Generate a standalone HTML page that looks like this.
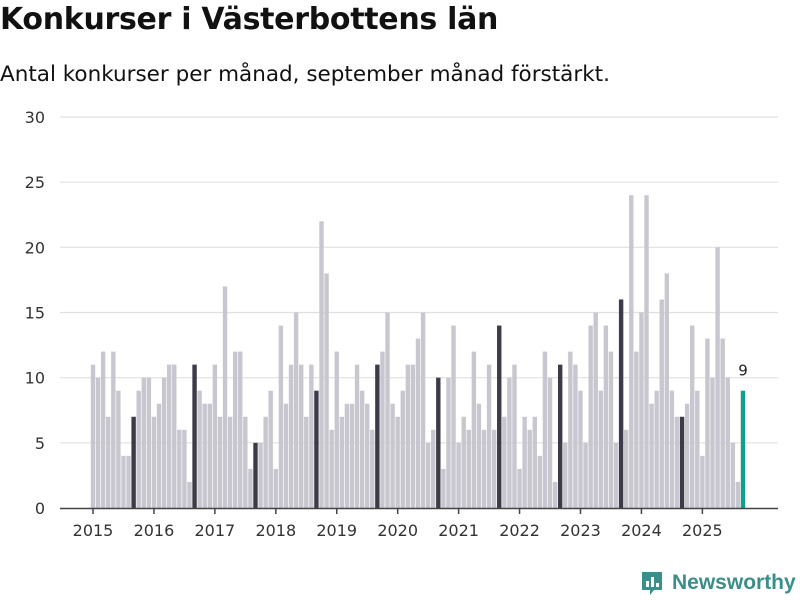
<!DOCTYPE html>
<html><head><meta charset="utf-8"><style>
body{margin:0;width:800px;height:600px;background:#fff;font-family:"Liberation Sans","DejaVu Sans",sans-serif;overflow:hidden;position:relative}
h1{position:absolute;left:0;top:2px;margin:0;font-size:30px;font-weight:bold;color:#111;font-family:"DejaVu Sans","Liberation Sans",sans-serif;letter-spacing:-0.3px}
.sub{position:absolute;left:0;top:62px;font-size:21.5px;color:#111;font-family:"DejaVu Sans","Liberation Sans",sans-serif}
.logo{position:absolute;left:640px;top:570px;display:flex;align-items:center;gap:8px;font-size:21px;font-weight:bold;color:#3a8f8a;font-family:"Liberation Sans",sans-serif}
</style></head><body>
<h1>Konkurser i Västerbottens län</h1>
<div class="sub">Antal konkurser per månad, september månad förstärkt.</div>
<svg id="chart" width="800" height="600" style="position:absolute;left:0;top:0"></svg>
<div class="logo">
<svg width="24" height="26" viewBox="0 0 24 26"><path d="M2 2h20v18h-8l-4 5v-5H2z" fill="#3a8f8a"/><rect x="6" y="11" width="3" height="6" fill="#fff"/><rect x="11" y="7" width="3" height="10" fill="#fff"/><rect x="16" y="13" width="3" height="4" fill="#fff"/></svg>
<span>Newsworthy</span></div>
<script>
const values = [
11,10,12,7,12,9,4,4,7,9,10,10,
7,8,10,11,11,6,6,2,11,9,8,8,
11,7,17,7,12,12,7,3,5,5,7,9,
3,14,8,11,15,11,7,11,9,22,18,6,
12,7,8,8,11,9,8,6,11,12,15,8,
7,9,11,11,13,15,5,6,10,3,10,14,
5,7,6,12,8,6,11,6,14,7,10,11,
3,7,6,7,4,12,10,2,11,5,12,11,
9,5,14,15,9,14,12,5,16,6,24,12,
15,24,8,9,16,18,9,7,7,8,14,9,
4,13,10,20,13,10,5,2,9];
const startYear = 2015;
const yTicks = [0,5,10,15,20,25,30];
const yearLabels = ["2015","2016","2017","2018","2019","2020","2021","2022","2023","2024","2025"];
const svg = document.getElementById('chart');
const NS = 'http://www.w3.org/2000/svg';
const x0 = 93, step = 5.078, y0 = 508, yMax = 30, yTop = 117;
const xs = i => x0 + i*step;
const ys = v => y0 - v*(y0-yTop)/yMax;
function mk(t, a){const e=document.createElementNS(NS,t);for(const k in a)e.setAttribute(k,a[k]);svg.appendChild(e);return e;}
yTicks.forEach(t=>{
  if(t>0){const g=mk('line',{x1:60,x2:778,y1:ys(t),y2:ys(t),stroke:'#e0e0e0','stroke-width':1.2});
  
  }
  const l=mk('text',{x:45,y:ys(t)+6,'text-anchor':'end','font-size':16,fill:'#333','font-family':'DejaVu Sans,Liberation Sans,sans-serif'});
  l.textContent=t;
  
  
});
values.forEach((v,i)=>{
  const last = i===values.length-1;
  const sep = (i%12)===8;
  const r=mk('rect',{x:xs(i)-2.2,y:ys(v),width:4.4,height:y0-ys(v),fill:last?'#12a08e':(sep?'#3d3b47':'#c8c7d0')});
  
  
  if(last){const t=mk('text',{x:xs(i),y:ys(v)-15,'text-anchor':'middle','font-size':15,fill:'#222','font-family':'DejaVu Sans,sans-serif'});
  t.textContent=v;
  
  }
});
const ax=mk('line',{x1:60,x2:778,y1:y0+0.5,y2:y0+0.5,stroke:'#444','stroke-width':1.5});


yearLabels.forEach((y,k)=>{
  const x=xs(k*12);
  const tk=mk('line',{x1:x,x2:x,y1:y0,y2:y0+6,stroke:'#444','stroke-width':1.5});
  
  
  const t=mk('text',{x:x,y:536,'text-anchor':'middle','font-size':16,fill:'#333','font-family':'DejaVu Sans,Liberation Sans,sans-serif'});
  t.textContent=y;
  
  
});
</script>
</body></html>
